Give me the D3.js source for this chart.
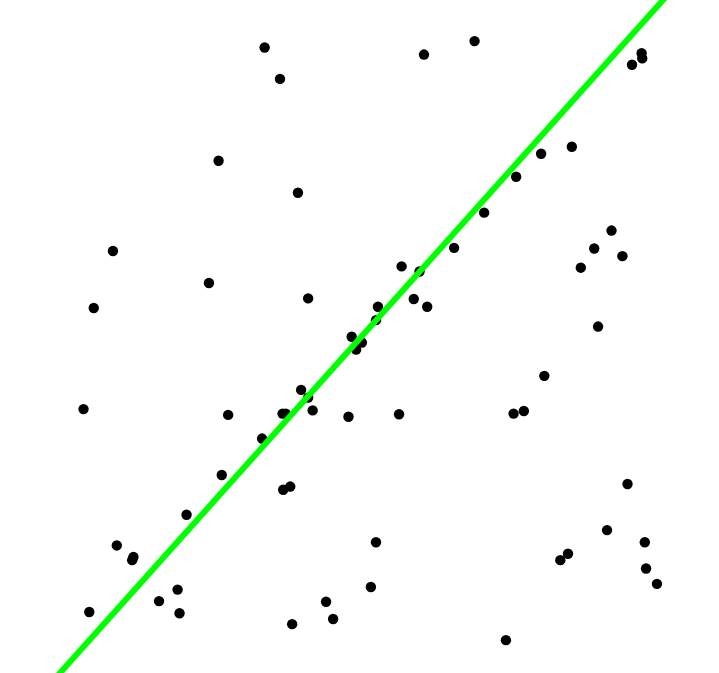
<!DOCTYPE html>
<html><head><meta charset="utf-8">
<script src="https://cdn.jsdelivr.net/npm/d3@7"></script>
<style>html,body{margin:0;padding:0;background:#fff;overflow:hidden}</style>
</head><body>
<script>
const xValues = [35.1,37.5,27.9,40.3,11.4,26.4,8.4,41.9,48.7,60.0,67.9,94.0,94.1,92.5,78.3,83.1,74.4,69.4,64.7,56.5,59.3,52.8,52.5,58.4,60.5,89.3,86.6,91.0,84.5,87.2,49.4,6.8,29.4,37.9,38.4,40.8,41.9,42.6,48.2,34.7,28.4,38.0,39.1,22.9,12.0,14.6,14.4,21.5,18.6,21.8,7.7,39.4,44.7,45.8,50.3,78.8,56.1,74.0,75.6,91.8,88.6,94.5,82.5,81.3,94.7,96.4,52.5,51.7,72.8];
const yValues = [95.7,90.8,78.0,73.0,63.9,58.9,55.0,56.5,50.5,94.6,96.7,94.8,94.0,93.0,79.1,80.2,75.5,69.9,64.4,61.5,60.7,55.2,53.1,56.4,55.2,67.1,64.3,63.1,61.3,52.1,48.5,39.2,38.3,38.5,38.5,42.2,41.0,39.0,38.0,34.6,28.9,26.6,27.1,22.7,17.9,16.1,15.6,11.0,9.2,7.3,7.5,5.6,9.1,6.4,49.6,44.4,38.4,38.5,38.9,27.5,20.3,18.4,16.6,15.6,14.3,11.9,18.4,11.4,3.1];
const lineIntercept = -5.52;
const lineSlope = 1.116;
const lineXExtent = [-10, 110];

const W = 719, H = 673;
const svg = d3.select("body").append("svg").attr("width", W).attr("height", H);
const x = d3.scaleLinear().domain([0, 100]).range([40, 680]);
const y = d3.scaleLinear().domain([0, 100]).range([660, 20]);

const pts = xValues.map((v, i) => ({x: v, y: yValues[i]}));
svg.append("g").selectAll("circle").data(pts).join("circle")
  .attr("cx", d => x(d.x)).attr("cy", d => y(d.y)).attr("r", 5.2).attr("fill", "#000");

const linePts = lineXExtent.map(v => ({x: v, y: lineIntercept + lineSlope * v}));
svg.append("path").datum(linePts)
  .attr("d", d3.line().x(d => x(d.x)).y(d => y(d.y)))
  .attr("stroke", "#00ff00").attr("stroke-width", 6).attr("fill", "none");
</script>
</body></html>
